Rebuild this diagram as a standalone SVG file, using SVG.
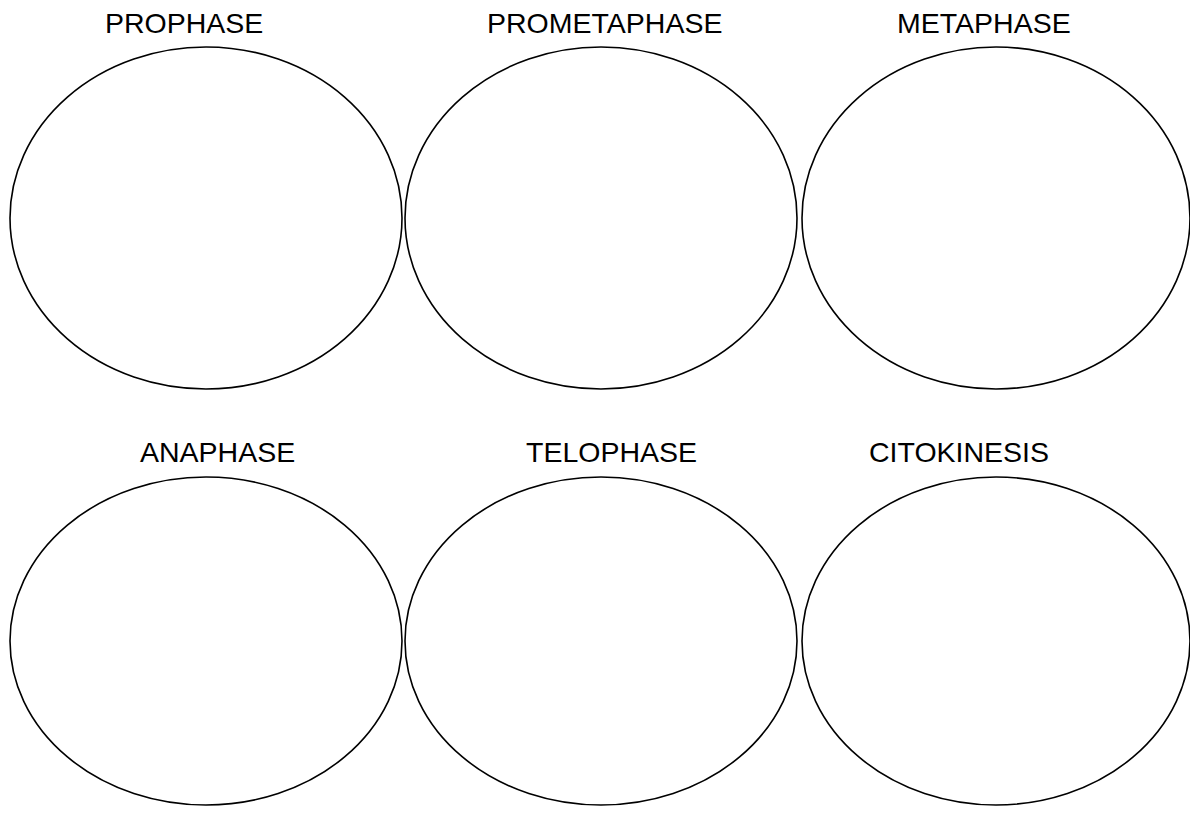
<svg xmlns="http://www.w3.org/2000/svg" width="1190" height="818" viewBox="0 0 1190 818">
<style>
.cell{fill:none;stroke:#000;stroke-width:1.6}
.lbl{font-family:"Liberation Sans",Arial,sans-serif;font-size:28.5px;fill:#000}
</style>
<rect width="1190" height="818" fill="#fff"/>
<g id="prophase"><ellipse class="cell" cx="206" cy="218" rx="196" ry="171"/><text class="lbl" x="105" y="33">PROPHASE</text></g>
<g id="prometaphase"><ellipse class="cell" cx="601" cy="218" rx="196" ry="171"/><text class="lbl" x="487" y="33">PROMETAPHASE</text></g>
<g id="metaphase"><ellipse class="cell" cx="996" cy="218" rx="194" ry="171"/><text class="lbl" x="897" y="33">METAPHASE</text></g>
<g id="anaphase"><ellipse class="cell" cx="206" cy="641" rx="196" ry="164"/><text class="lbl" x="140" y="462">ANAPHASE</text></g>
<g id="telophase"><ellipse class="cell" cx="601" cy="641" rx="196" ry="164"/><text class="lbl" x="526" y="462">TELOPHASE</text></g>
<g id="citokinesis"><ellipse class="cell" cx="996" cy="641" rx="194" ry="164"/><text class="lbl" x="869" y="462">CITOKINESIS</text></g>
<g id="connectors"/>
</svg>
